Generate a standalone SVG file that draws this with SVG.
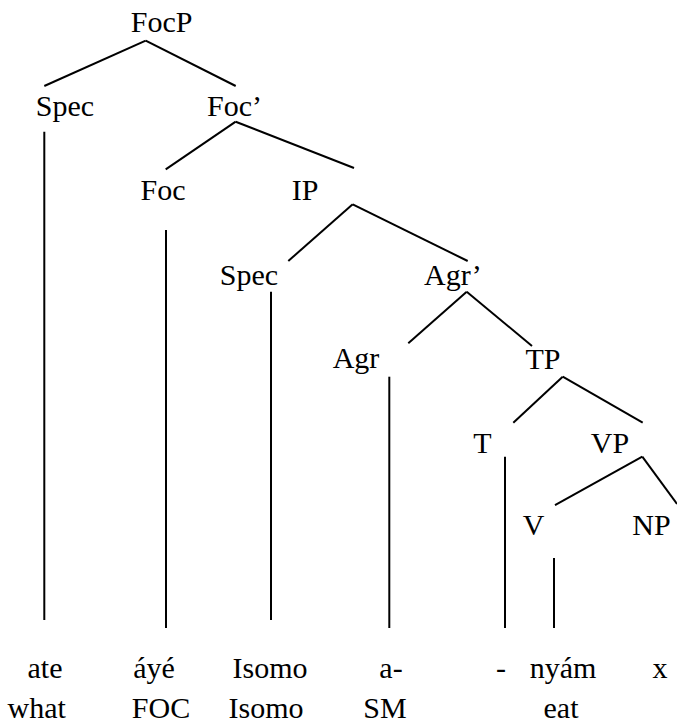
<svg xmlns="http://www.w3.org/2000/svg" width="677" height="726" viewBox="0 0 677 726">
<style>
svg text, text{font-family:'Liberation Serif','Times New Roman',Tinos,Times,serif !important;font-size:30px;fill:#000}
.c{text-anchor:middle}
.ln{stroke:#000;stroke-width:2}
</style>
<rect width="677" height="726" fill="#fff"/>
<g id="connectors" class="ln">
<line x1="145.7" y1="40.7" x2="44.3" y2="86"/>
<line x1="145.7" y1="40.7" x2="235.7" y2="86"/>
<line x1="44.3" y1="131.7" x2="44.3" y2="620"/>
<line x1="235.7" y1="121.7" x2="165.7" y2="169.3"/>
<line x1="235.7" y1="121.7" x2="354" y2="168"/>
<line x1="166" y1="230" x2="166" y2="628"/>
<line x1="352.7" y1="204.3" x2="288.3" y2="261"/>
<line x1="352.7" y1="204.3" x2="467.7" y2="261"/>
<line x1="271" y1="291.7" x2="271" y2="620"/>
<line x1="466.7" y1="291.7" x2="408.3" y2="343.3"/>
<line x1="466.7" y1="291.7" x2="532" y2="346"/>
<line x1="389.3" y1="376.7" x2="389.3" y2="628"/>
<line x1="562.7" y1="376.7" x2="513.3" y2="422.7"/>
<line x1="562.7" y1="376.7" x2="642.7" y2="422.7"/>
<line x1="505" y1="456.7" x2="505" y2="628"/>
<line x1="642.3" y1="456.7" x2="555" y2="505"/>
<line x1="642.3" y1="456.7" x2="677" y2="504"/>
<line x1="554" y1="558" x2="554" y2="628"/>
</g>
<g id="FocP"><text class="c" x="161.7" y="31.7" style="font-family:'Liberation Serif',serif">FocP</text></g>
<g id="Spec1"><text class="c" x="65" y="116" style="font-family:'Liberation Serif',serif">Spec</text></g>
<g id="FocBar"><text x="207" y="116" style="font-family:'Liberation Serif',serif">Foc’</text></g>
<g id="Foc"><text class="c" x="163" y="200" style="font-family:'Liberation Serif',serif">Foc</text></g>
<g id="IP"><text class="c" x="305" y="200" style="font-family:'Liberation Serif',serif">IP</text></g>
<g id="Spec2"><text class="c" x="249" y="285" style="font-family:'Liberation Serif',serif">Spec</text></g>
<g id="AgrBar"><text x="424" y="285" style="font-family:'Liberation Serif',serif">Agr’</text></g>
<g id="Agr"><text class="c" x="356" y="368" style="font-family:'Liberation Serif',serif">Agr</text></g>
<g id="TP"><text class="c" x="543" y="369" style="font-family:'Liberation Serif',serif">TP</text></g>
<g id="T"><text class="c" x="482.5" y="453" style="font-family:'Liberation Serif',serif">T</text></g>
<g id="VP"><text class="c" x="610" y="453" style="font-family:'Liberation Serif',serif">VP</text></g>
<g id="V"><text class="c" x="533.5" y="535" style="font-family:'Liberation Serif',serif">V</text></g>
<g id="NP"><text class="c" x="651.5" y="535" style="font-family:'Liberation Serif',serif">NP</text></g>
<g id="words">
<text class="c" x="45" y="678" style="font-family:'Liberation Serif',serif">ate</text>
<text class="c" x="154" y="678" style="font-family:'Liberation Serif',serif">áyé</text>
<text class="c" x="270" y="678" style="font-family:'Liberation Serif',serif">Isomo</text>
<text class="c" x="391" y="678" style="font-family:'Liberation Serif',serif">a-</text>
<text class="c" x="501" y="678" style="font-family:'Liberation Serif',serif">-</text>
<text class="c" x="563" y="678" style="font-family:'Liberation Serif',serif">nyám</text>
<text class="c" x="660" y="678" style="font-family:'Liberation Serif',serif">x</text>
</g>
<g id="glosses">
<text class="c" x="36.7" y="718" style="font-family:'Liberation Serif',serif">what</text>
<text class="c" x="161" y="718" style="font-family:'Liberation Serif',serif">FOC</text>
<text class="c" x="266" y="718" style="font-family:'Liberation Serif',serif">Isomo</text>
<text class="c" x="385" y="718" style="font-family:'Liberation Serif',serif">SM</text>
<text class="c" x="561" y="718" style="font-family:'Liberation Serif',serif">eat</text>
</g>
</svg>
